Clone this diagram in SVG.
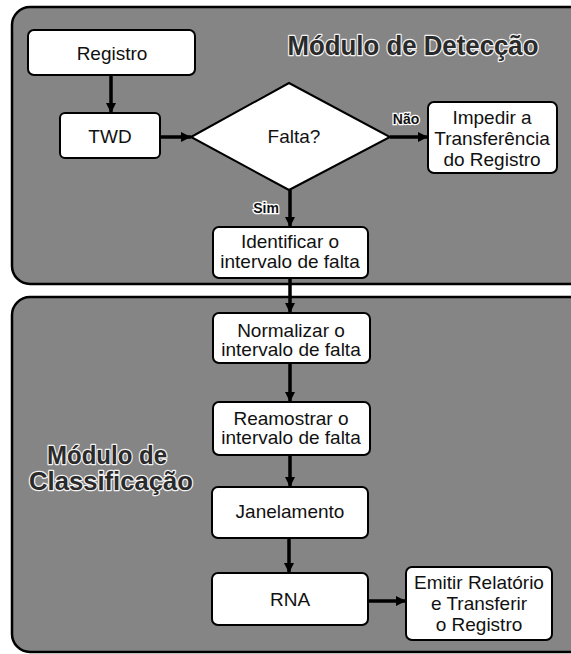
<svg xmlns="http://www.w3.org/2000/svg" width="571" height="654" viewBox="0 0 571 654">
<defs>
<style>
.panel{fill:#858585;stroke:#000;stroke-width:2.5}
.box{fill:#fff;stroke:#000;stroke-width:2}
.t{font-family:"Liberation Sans",Arial,sans-serif;font-size:19px;fill:#111;text-anchor:middle}
.title{font-family:"Liberation Sans",Arial,sans-serif;font-weight:bold;fill:#2a2a2a;stroke:#f2f2f2;stroke-width:2.5;paint-order:stroke;stroke-linejoin:round;text-anchor:middle}
.lbl{font-family:"Liberation Sans",Arial,sans-serif;font-size:14px;font-weight:bold;fill:#111;stroke:#fff;stroke-width:2.5;paint-order:stroke;text-anchor:middle}
.c{stroke:#000;stroke-width:3.5;fill:none;marker-end:url(#ah)}
</style>
<marker id="ah" viewBox="0 0 10 10" refX="10" refY="5" markerWidth="11" markerHeight="10" markerUnits="userSpaceOnUse" orient="auto">
<path d="M0,0 L10,5 L0,10 z" fill="#000"/>
</marker>
</defs>
<rect width="571" height="654" fill="#fff"/>
<g id="panel-deteccao">
<rect class="panel" x="12" y="7" width="580" height="277" rx="18"/>
<text class="title" x="413" y="55" font-size="28" textLength="251" lengthAdjust="spacingAndGlyphs">Módulo de Detecção</text>
</g>
<g id="panel-classificacao">
<rect class="panel" x="12" y="297" width="580" height="355" rx="18"/>
<text class="title" x="107" y="464" font-size="25" textLength="120" lengthAdjust="spacingAndGlyphs">Módulo de</text>
<text class="title" x="111" y="490" font-size="25" textLength="164" lengthAdjust="spacingAndGlyphs">Classificação</text>
</g>
<g id="connectors">
<line class="c" x1="111" y1="75" x2="111" y2="113"/>
<line class="c" x1="160" y1="137" x2="191" y2="137"/>
<line class="c" x1="390" y1="137" x2="428" y2="137"/>
<line class="c" x1="290" y1="190" x2="290" y2="227"/>
<line class="c" x1="290" y1="278" x2="290" y2="313"/>
<line class="c" x1="290" y1="363" x2="290" y2="402"/>
<line class="c" x1="290" y1="455" x2="290" y2="487"/>
<line class="c" x1="289" y1="538" x2="289" y2="573"/>
<line class="c" x1="368" y1="601" x2="406" y2="601"/>
<text class="lbl" x="406" y="124">Não</text>
<text class="lbl" x="266" y="213">Sim</text>
</g>
<g id="registro">
<rect class="box" x="28" y="30" width="167" height="45" rx="6"/>
<text class="t" x="112" y="60">Registro</text>
</g>
<g id="twd">
<rect class="box" x="60" y="113" width="100" height="45" rx="5"/>
<text class="t" x="110" y="143">TWD</text>
</g>
<g id="falta">
<polygon class="box" points="191,137 289,83 390,137 289,190"/>
<text class="t" x="294" y="143">Falta?</text>
</g>
<g id="impedir">
<rect class="box" x="428" y="102" width="129" height="71" rx="6"/>
<text class="t" x="492" y="124">Impedir a</text>
<text class="t" x="492" y="145">Transferência</text>
<text class="t" x="492" y="166">do Registro</text>
</g>
<g id="identificar">
<rect class="box" x="213" y="227" width="155" height="51" rx="6"/>
<text class="t" x="290" y="248">Identificar o</text>
<text class="t" x="290" y="268">intervalo de falta</text>
</g>
<g id="normalizar">
<rect class="box" x="213" y="313" width="157" height="50" rx="6"/>
<text class="t" x="291" y="337">Normalizar o</text>
<text class="t" x="291" y="356">intervalo de falta</text>
</g>
<g id="reamostrar">
<rect class="box" x="213" y="402" width="157" height="53" rx="6"/>
<text class="t" x="291" y="425">Reamostrar o</text>
<text class="t" x="291" y="444">intervalo de falta</text>
</g>
<g id="janelamento">
<rect class="box" x="212" y="487" width="156" height="51" rx="6"/>
<text class="t" x="290" y="518">Janelamento</text>
</g>
<g id="rna">
<rect class="box" x="212" y="573" width="156" height="52" rx="6"/>
<text class="t" x="290" y="606">RNA</text>
</g>
<g id="emitir">
<rect class="box" x="406" y="567" width="146" height="73" rx="6"/>
<text class="t" x="479" y="589">Emitir Relatório</text>
<text class="t" x="479" y="610">e Transferir</text>
<text class="t" x="479" y="631">o Registro</text>
</g>
</svg>
